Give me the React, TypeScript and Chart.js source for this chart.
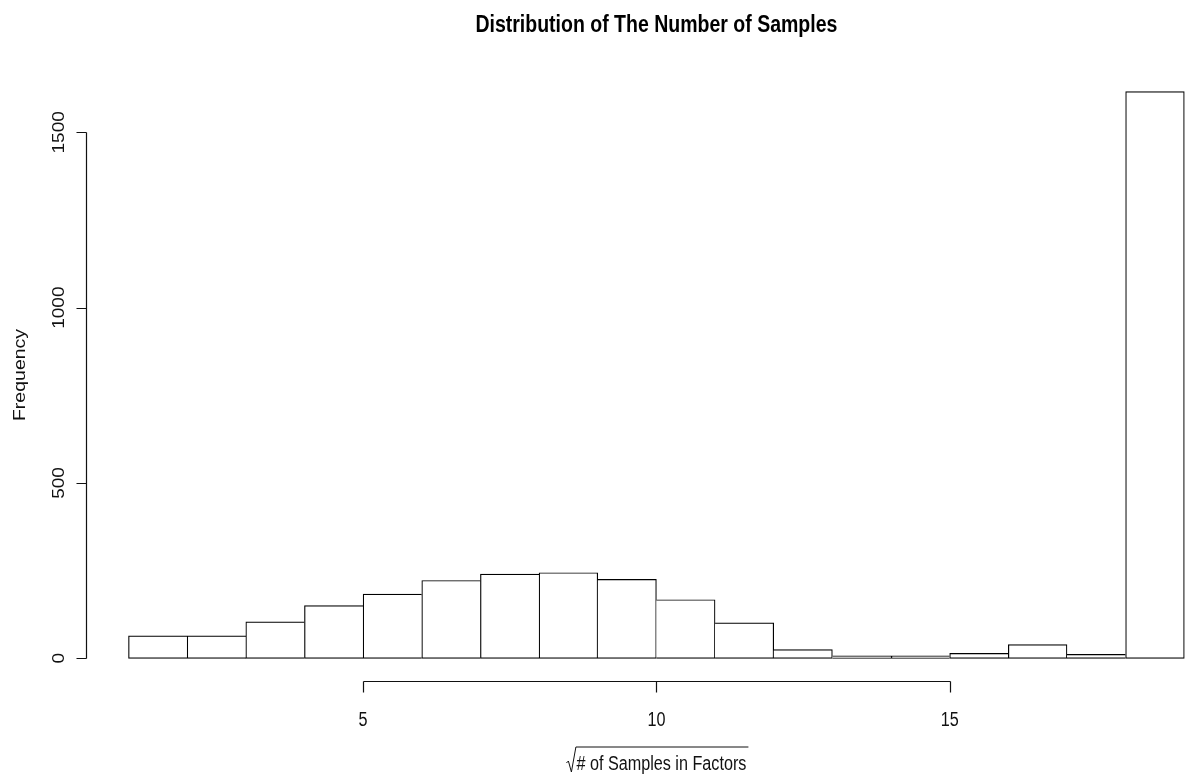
import React, { useEffect, useRef } from "react";
import { Chart, registerables } from "chart.js";

Chart.register(...registerables);

const titleText = "Distribution of The Number of Samples";
const xAxisTitle = "# of Samples in Factors";
const yAxisTitle = "Frequency";
const binLefts = [1, 2, 3, 4, 5, 6, 7, 8, 9, 10, 11, 12, 13, 14, 15, 16, 17, 18];
const binWidth = 1;
const counts = [64, 64, 104, 150, 183, 222, 240, 244, 225, 167, 101, 25, 7, 7, 14, 39, 11, 1616];
const xTicks = [5, 10, 15];
const yTicks = [0, 500, 1000, 1500];

const SANS = '"Liberation Sans", Arial, sans-serif';
const HSCALE = 0.83;

function drawHText(ctx: CanvasRenderingContext2D, text: string, x: number, y: number, font: string, align: CanvasTextAlign = "center") {
  ctx.save();
  ctx.translate(x, y);
  ctx.scale(HSCALE, 1);
  ctx.font = font;
  ctx.textAlign = align;
  ctx.textBaseline = "alphabetic";
  ctx.fillText(text, 0, 0);
  ctx.restore();
}

function drawVText(ctx: CanvasRenderingContext2D, text: string, x: number, y: number, font: string) {
  ctx.save();
  ctx.translate(x, y);
  ctx.scale(HSCALE, 1);
  ctx.rotate(-Math.PI / 2);
  ctx.font = font;
  ctx.textAlign = "center";
  ctx.textBaseline = "alphabetic";
  ctx.fillText(text, 0, 0);
  ctx.restore();
}

const rAxesPlugin = {
  id: "rAxes",
  afterDraw(chart: any) {
    const ctx: CanvasRenderingContext2D = chart.ctx;
    const xs = chart.scales.x;
    const ys = chart.scales.y;
    const xMin = binLefts[0];
    const xMax = binLefts[binLefts.length - 1] + binWidth;
    const yMaxData = Math.max(...counts);
    const regionLeftVal = xMin - 0.04 * (xMax - xMin);
    const regionBottomVal = -0.04 * yMaxData;
    const axX = Math.round(xs.getPixelForValue(regionLeftVal)) + 0.5;
    const axY = Math.round(ys.getPixelForValue(regionBottomVal)) + 0.5;
    const tick = 10;
    ctx.save();
    ctx.strokeStyle = "#111";
    ctx.lineWidth = 1.2;
    const y0 = Math.round(ys.getPixelForValue(yTicks[0])) + 0.5;
    const y1 = Math.round(ys.getPixelForValue(yTicks[yTicks.length - 1])) + 0.5;
    ctx.beginPath();
    ctx.moveTo(axX, y0);
    ctx.lineTo(axX, y1);
    yTicks.forEach((t) => {
      const py = Math.round(ys.getPixelForValue(t)) + 0.5;
      ctx.moveTo(axX, py);
      ctx.lineTo(axX - tick, py);
    });
    const x0 = Math.round(xs.getPixelForValue(xTicks[0])) + 0.5;
    const x1 = Math.round(xs.getPixelForValue(xTicks[xTicks.length - 1])) + 0.5;
    ctx.moveTo(x0, axY);
    ctx.lineTo(x1, axY);
    xTicks.forEach((t) => {
      const px = Math.round(xs.getPixelForValue(t)) + 0.5;
      ctx.moveTo(px, axY);
      ctx.lineTo(px, axY + tick + 1);
    });
    ctx.stroke();

    ctx.fillStyle = "#111";
    yTicks.forEach((t) => {
      drawVText(ctx, String(t), axX - 23, ys.getPixelForValue(t), `19px ${SANS}`);
    });
    xTicks.forEach((t) => {
      drawHText(ctx, String(t), xs.getPixelForValue(t), axY + 44, `19.5px ${SANS}`);
    });
    const regionTopVal = yMaxData * 1.04;
    const midY = (ys.getPixelForValue(regionTopVal) + ys.getPixelForValue(regionBottomVal)) / 2;
    drawVText(ctx, yAxisTitle, 25, midY, `19.5px ${SANS}`);

    const regionRightVal = xMax + 0.04 * (xMax - xMin);
    const midX = (xs.getPixelForValue(regionLeftVal) + xs.getPixelForValue(regionRightVal)) / 2;
    ctx.fillStyle = "#000";
    drawHText(ctx, titleText, midX, 31.5, `bold 23.5px ${SANS}`);

    ctx.fillStyle = "#111";
    ctx.font = `19.5px ${SANS}`;
    const tw = ctx.measureText(xAxisTitle).width * HSCALE;
    const radW = 10;
    const startX = midX - (tw + radW) / 2 + radW;
    const baseY = 770;
    drawHText(ctx, xAxisTitle, startX, baseY, `19.5px ${SANS}`, "left");
    ctx.beginPath();
    ctx.lineWidth = 1;
    ctx.strokeStyle = "#111";
    ctx.moveTo(startX - 10, 763);
    ctx.lineTo(startX - 8, 761);
    ctx.lineTo(startX - 5, 772);
    ctx.lineTo(startX - 0.5, 747);
    ctx.lineTo(startX + tw + 2, 747);
    ctx.stroke();
    ctx.restore();
  },
};

export default function App() {
  const canvasRef = useRef<HTMLCanvasElement | null>(null);
  useEffect(() => {
    if (!canvasRef.current) return;
    const last = counts.length - 1;
    const chart = new Chart(canvasRef.current, {
      type: "bar",
      data: {
        datasets: [
          {
            data: binLefts.map((l, i) => ({ x: l + binWidth / 2, y: counts[i] })),
            backgroundColor: "#ffffff",
            borderColor: "#000000",
            borderWidth: (c: any) => {
              const i = c.dataIndex;
              return {
                top: 1.2,
                bottom: 1.2,
                left: i === 0 || counts[i - 1] <= counts[i] ? 1.2 : 0,
                right: i === last || counts[i + 1] < counts[i] ? 1.2 : 0,
              };
            },
            borderSkipped: false,
            barPercentage: 1,
            categoryPercentage: 1,
            clip: false,
          } as any,
        ],
      },
      options: {
        animation: false,
        responsive: true,
        maintainAspectRatio: false,
        layout: { padding: { left: 128.5, right: 0.7, top: 62.2, bottom: 123.7 } },
        plugins: { legend: { display: false }, title: { display: false }, tooltip: { enabled: false } },
        events: [],
        scales: {
          x: {
            type: "linear",
            offset: false,
            min: binLefts[0],
            max: binLefts[binLefts.length - 1] + binWidth,
            display: false,
            grid: { offset: false },
          },
          y: { type: "linear", min: 0, max: 1700, display: false },
        },
      },
      plugins: [rAxesPlugin],
    });
    return () => chart.destroy();
  }, []);
  return (
    <div style={{ position: "fixed", left: 0, top: 0, width: 1185, height: 782, background: "#fff" }}>
      <canvas ref={canvasRef} />
    </div>
  );
}
